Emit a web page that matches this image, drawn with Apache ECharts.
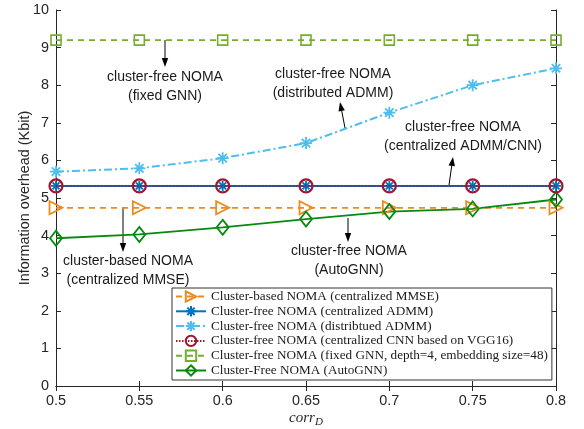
<!DOCTYPE html>
<html><head><meta charset="utf-8">
<script src="https://cdn.jsdelivr.net/npm/echarts@6/dist/echarts.min.js"></script>
<style>html,body{margin:0;padding:0;background:#fff}#c{width:584px;height:429px}</style>
</head><body><div id="c"></div>
<script>
const corr = ['0.5','0.55','0.6','0.65','0.7','0.75','0.8'];
const xVals = [0.5,0.55,0.6,0.65,0.7,0.75,0.8];
const mmse = [4.74,4.74,4.74,4.74,4.74,4.74,4.74];
const cADMM = [5.32,5.32,5.32,5.32,5.32,5.32,5.32];
const dADMM = [5.70,5.79,6.06,6.46,7.27,8.00,8.45];
const cnn = [5.32,5.32,5.32,5.32,5.32,5.32,5.32];
const fixedGNN = [9.2,9.2,9.2,9.2,9.2,9.2,9.2];
const autoGNN = [3.93,4.03,4.22,4.44,4.64,4.71,4.96];
const names = [
 'Cluster-based NOMA (centralized MMSE)',
 'Cluster-free NOMA (centralized ADMM)',
 'Cluster-free NOMA (distribtued ADMM)',
 'Cluster-free NOMA (centralized CNN based on VGG16)',
 'Cluster-free NOMA (fixed GNN, depth=4, embedding size=48)',
 'Cluster-Free NOMA (AutoGNN)'
];
const pair = a => a.map((v,i)=>[xVals[i],v]);
const star = 'path://M5 0L5 10M0 5L10 5M1.5 1.5L8.5 8.5M8.5 1.5L1.5 8.5';
const sans = 'Liberation Sans, Arial, sans-serif';
const serif = 'Liberation Serif, Times New Roman, serif';
const chart = echarts.init(document.getElementById('c'));
function ann(x,y,lines){
  return lines.map((t,i)=>({type:'text',x:x,y:y+i*19.5,style:{text:t,font:'14px '+sans,fill:'#1a1a1a',textAlign:'center',textVerticalAlign:'middle'}}));
}
function arrow(x1,y1,x2,y2){
  const a=Math.atan2(y2-y1,x2-x1), L=9, W=3.2;
  const bx=x2-L*Math.cos(a), by=y2-L*Math.sin(a);
  const px=-Math.sin(a)*W, py=Math.cos(a)*W;
  return [
    {type:'line',shape:{x1:x1,y1:y1,x2:bx,y2:by},style:{stroke:'#000',lineWidth:1}},
    {type:'polygon',shape:{points:[[x2,y2],[bx+px,by+py],[bx-px,by-py]]},style:{fill:'#000'}}
  ];
}
const graphics = [].concat(
  ann(165,77,['cluster-free NOMA','(fixed GNN)']), arrow(165,40,165,67),
  ann(333,74,['cluster-free NOMA','(distributed ADMM)']), arrow(345,128,340,102),
  ann(463,127,['cluster-free NOMA','(centralized ADMM/CNN)']), arrow(449,185,453,157),
  ann(128,261,['cluster-based NOMA','(centralized MMSE)']), arrow(123,208,123,252),
  ann(349,251,['cluster-free NOMA','(AutoGNN)']), arrow(348,218,348,242)
);
const axisCol = '#262626';
chart.setOption({
  backgroundColor:'#fff',
  animation:false,
  grid:{left:56,right:28,top:10,bottom:43,containLabel:false,outerBoundsMode:'none'},
  xAxis:[{type:'value',min:0.5,max:0.8,interval:0.05,
    axisLine:{lineStyle:{color:axisCol,width:1}},
    axisTick:{inside:true,length:5,lineStyle:{color:axisCol}},
    axisLabel:{color:axisCol,fontFamily:sans,fontSize:14.4,margin:8,formatter:v=>String(+v.toFixed(2))},
    splitLine:{show:false},
    name:'{i|corr}{s|D}',nameLocation:'middle',nameGap:23,nameMoveOverlap:false,
    nameTextStyle:{rich:{i:{fontFamily:serif,fontStyle:'italic',fontSize:15,color:axisCol},s:{fontFamily:serif,fontStyle:'italic',fontSize:11,color:axisCol,padding:[8,0,0,0]}}}
  },{type:'value',position:'top',min:0.5,max:0.8,interval:0.05,
    axisLine:{show:true,lineStyle:{color:axisCol}},axisTick:{inside:true,length:5,lineStyle:{color:axisCol}},axisLabel:{show:false},splitLine:{show:false}}],
  yAxis:[{type:'value',min:0,max:10,interval:1,
    axisLine:{show:true,lineStyle:{color:axisCol}},
    axisTick:{show:true,inside:true,length:5,lineStyle:{color:axisCol}},
    axisLabel:{color:axisCol,fontFamily:sans,fontSize:14.4,margin:7},
    splitLine:{show:false},
    name:'Information overhead (Kbit)',nameLocation:'middle',nameGap:24,nameMoveOverlap:false,
    nameTextStyle:{fontFamily:sans,fontSize:14.4,color:axisCol}
  },{type:'value',position:'right',min:0,max:10,interval:1,
    axisLine:{show:true,lineStyle:{color:axisCol}},axisTick:{show:true,inside:true,length:5,lineStyle:{color:axisCol}},axisLabel:{show:false},splitLine:{show:false}}],
  legend:{orient:'vertical',left:172,top:288,width:378,padding:[2,4,3,3],itemGap:1.8,itemWidth:30,itemHeight:13,
    backgroundColor:'#fff',borderColor:'#333',borderWidth:1,
    textStyle:{fontFamily:serif,fontSize:13.2,color:'#1a1a1a'},data:names},
  series:[
    {name:names[0],type:'line',data:pair(mmse),z:3,symbol:'triangle',symbolRotate:-90,symbolSize:13,
      lineStyle:{color:'#EC8B1E',width:1.8,type:[6,5]},itemStyle:{color:'rgba(0,0,0,0)',borderColor:'#EC8B1E',borderWidth:1.8}},
    {name:names[1],type:'line',data:pair(cADMM),z:3,symbol:star,symbolSize:10,
      lineStyle:{color:'#0072BD',width:2},itemStyle:{color:'rgba(0,0,0,0)',borderColor:'#0072BD',borderWidth:1.8}},
    {name:names[2],type:'line',data:pair(dADMM),z:3,symbol:star,symbolSize:12,
      lineStyle:{color:'#4DBEEE',width:2,type:[8,3,2,3]},itemStyle:{color:'rgba(0,0,0,0)',borderColor:'#4DBEEE',borderWidth:1.8}},
    {name:names[3],type:'line',data:pair(cnn),z:4,symbol:'circle',symbolSize:13,
      lineStyle:{color:'#A2142F',width:1.8,type:[1.5,1.5]},itemStyle:{color:'rgba(0,0,0,0)',borderColor:'#A2142F',borderWidth:2.2}},
    {name:names[4],type:'line',data:pair(fixedGNN),z:3,symbol:'rect',symbolSize:10,
      lineStyle:{color:'#77AC30',width:1.8,type:[6,5]},itemStyle:{color:'rgba(0,0,0,0)',borderColor:'#77AC30',borderWidth:1.6}},
    {name:names[5],type:'line',data:pair(autoGNN),z:3,symbol:'diamond',symbolSize:[12,15],
      lineStyle:{color:'#078A0F',width:1.8},itemStyle:{color:'rgba(0,0,0,0)',borderColor:'#078A0F',borderWidth:1.8}}
  ],
  graphic:graphics
});
</script></body></html>
